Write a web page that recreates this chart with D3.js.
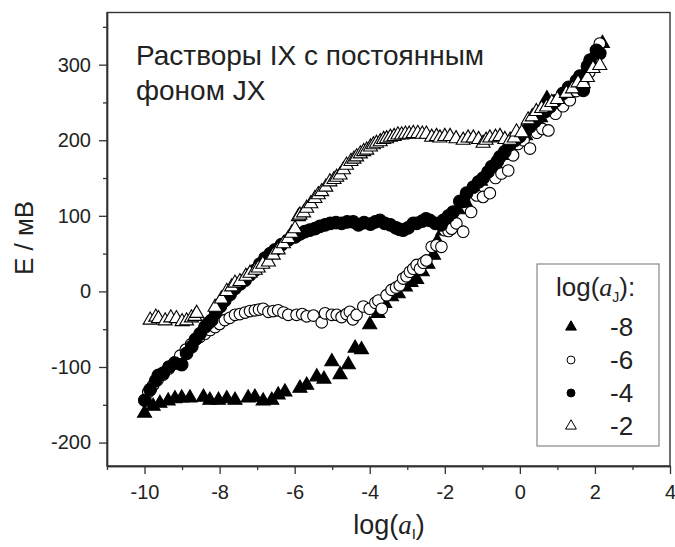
<!DOCTYPE html>
<html>
<head>
<meta charset="utf-8">
<script src="https://cdn.jsdelivr.net/npm/d3@7"></script>
<style>
  body { margin: 0; background: #fff; }
  text { font-family: "Liberation Sans", Arial, sans-serif; fill: #222; }
</style>
</head>
<body>
<div id="chart"></div>
<script>
// log(aJ) = -8 : filled triangles
const seriesM8 = [
  [-10.0,-159],[-9.77,-150],[-9.59,-146],[-9.37,-143],[-9.19,-140],[-9.01,-139],[-8.79,-139],[-8.43,-138],
  [-8.26,-142],[-8.03,-142],[-7.81,-140],[-7.59,-142],[-7.24,-139],[-7.06,-138],[-6.84,-143],[-6.61,-142],
  [-6.44,-135],[-6.26,-131],[-5.86,-126],[-5.68,-122],[-5.41,-111],[-5.22,-114],[-5.01,-91],[-4.79,-108],
  [-4.57,-95],[-4.39,-73],[-4.22,-75],[-4.0,-42],[-3.78,-27],[-3.6,-14],[-3.42,-5],[-3.24,-1],[-3.05,8],
  [-2.9,14],[-2.75,18],[-2.6,28],[-2.45,38],[-2.3,50],[-2.2,68],[-2.05,82],[-1.85,98],[-1.65,110],
  [-1.45,120],[-1.25,135],[-1.05,148],[-0.85,160],[-0.65,170],[-0.45,182],[-0.25,195],[-0.05,200],
  [0.15,208],[0.35,218],[0.55,232],[0.72,257],[0.9,245],[1.1,258],[1.3,266],[1.5,278],[1.7,288],
  [1.85,300],[2.0,305],[2.2,330]
];

// log(aJ) = -6 : open circles
const seriesM6 = [
  [-10.0,-144],[-9.9,-133],[-9.77,-124],[-9.65,-117],[-9.5,-110],[-9.35,-102],[-9.2,-94],[-9.05,-85],
  [-8.9,-77],[-8.76,-70],[-8.66,-64],[-8.52,-60],[-8.39,-56],[-8.25,-51],[-8.12,-47],[-8.0,-43],
  [-7.86,-38],[-7.73,-35],[-7.59,-31],[-7.46,-30],[-7.32,-28],[-7.19,-26],[-7.06,-25],[-6.95,-24],
  [-6.84,-23],[-6.7,-27],[-6.57,-26],[-6.44,-25],[-6.3,-28],[-6.17,-31],[-5.95,-31],[-5.8,-30],
  [-5.68,-33],[-5.5,-32],[-5.28,-41],[-5.19,-29],[-5.01,-31],[-4.88,-31],[-4.75,-34],[-4.62,-30],
  [-4.53,-27],[-4.45,-37],[-4.35,-31],[-4.17,-20],[-4.0,-23],[-3.85,-15],[-3.77,-12],[-3.68,-23],
  [-3.55,-5],[-3.42,2],[-3.3,5],[-3.2,8],[-3.11,17],[-3.02,20],[-2.93,26],[-2.84,30],[-2.75,35],
  [-2.66,30],[-2.57,38],[-2.49,41],[-2.35,59],[-2.22,61],[-2.09,59],[-2.0,81],[-1.9,80],[-1.82,83],
  [-1.69,90],[-1.51,79],[-1.3,105],[-1.15,127],[-0.98,125],[-0.8,130],[-0.65,150],[-0.49,156],
  [-0.31,160],[-0.18,180],[-0.05,195],[0.1,200],[0.27,189],[0.45,210],[0.6,215],[0.76,213],
  [0.95,235],[1.15,245],[1.33,253],[1.5,265],[1.69,273],[1.85,290],[2.0,310],[2.13,328]
];

// log(aJ) = -4 : filled circles
const seriesM4 = [
  [-9.99,-144],[-9.85,-130],[-9.7,-118],[-9.63,-111],[-9.5,-108],[-9.35,-100],[-9.19,-95],[-9.01,-97],
  [-8.88,-82],[-8.74,-73],[-8.63,-63],[-8.52,-56],[-8.39,-47],[-8.3,-42],[-8.21,-38],[-8.1,-28],
  [-7.98,-20],[-7.86,-12],[-7.72,-4],[-7.59,4],[-7.45,10],[-7.32,15],[-7.19,22],[-7.06,28],[-6.93,36],
  [-6.79,44],[-6.65,50],[-6.52,55],[-6.35,62],[-6.17,68],[-5.99,72],[-5.86,76],[-5.73,79],[-5.6,81],
  [-5.46,83],[-5.33,86],[-5.19,88],[-5.05,90],[-4.9,91],[-4.75,90],[-4.6,92],[-4.44,92],[-4.3,88],
  [-4.15,91],[-3.98,89],[-3.85,92],[-3.73,94],[-3.6,90],[-3.45,88],[-3.3,84],[-3.2,82],[-3.11,81],
  [-2.98,84],[-2.84,90],[-2.75,90],[-2.6,93],[-2.5,96],[-2.4,94],[-2.25,90],[-2.1,88],[-2.04,94],
  [-1.9,100],[-1.78,105],[-1.6,119],[-1.5,119],[-1.42,130],[-1.24,138],[-1.1,145],[-0.98,150],
  [-0.85,158],[-0.75,165],[-0.6,172],[-0.53,178],[-0.4,185],[-0.26,194],[-0.12,200],[0.0,205],
  [0.15,212],[0.27,218],[0.4,225],[0.53,231],[0.68,238],[0.8,244],[0.95,252],[1.15,262],[1.3,270],
  [1.51,279],[1.6,285],[1.69,266],[1.8,298],[1.87,306],[2.04,319],[2.13,315]
];

// log(aJ) = -2 : open triangles
const seriesM2 = [
  [-9.85,-36],[-9.7,-32],[-9.63,-34],[-9.45,-37],[-9.3,-33],[-9.15,-34],[-9.0,-38],[-8.88,-37],
  [-8.75,-33],[-8.66,-31],[-8.61,-27],[-8.12,-19],[-7.95,-8],[-7.81,2],[-7.68,8],[-7.59,13],
  [-7.46,15],[-7.3,22],[-7.19,26],[-7.05,30],[-6.97,33],[-6.85,38],[-6.7,41],[-6.57,50],[-6.44,57],
  [-6.3,65],[-6.17,72],[-6.08,79],[-5.99,85],[-5.9,101],[-5.86,103],[-5.76,106],[-5.68,112],
  [-5.57,118],[-5.46,125],[-5.37,130],[-5.28,134],[-5.17,140],[-5.06,147],[-4.95,150],[-4.88,153],
  [-4.79,156],[-4.7,163],[-4.62,169],[-4.5,174],[-4.42,177],[-4.35,180],[-4.25,184],[-4.16,187],
  [-4.08,189],[-3.98,193],[-3.9,196],[-3.82,198],[-3.72,200],[-3.63,203],[-3.55,204],[-3.45,206],
  [-3.35,207],[-3.25,209],[-3.15,209],[-3.05,210],[-2.95,210],[-2.84,211],[-2.72,211],[-2.6,210],
  [-2.49,210],[-2.35,206],[-2.22,207],[-2.13,205],[-2.0,207],[-1.86,207],[-1.7,204],[-1.51,202],
  [-1.38,205],[-1.24,205],[-1.1,203],[-0.98,198],[-0.9,202],[-0.8,205],[-0.65,206],[-0.53,207],
  [-0.4,203],[-0.26,202],[-0.15,205],[-0.09,213],[0.05,212],[0.22,229],[0.33,233],[0.44,240],
  [0.58,244],[0.71,246],[0.85,252],[1.0,256],[1.24,264],[1.4,270],[1.55,278],[1.69,277],[1.8,285],
  [1.95,297],[2.13,301]
];

const xTicks = [-10, -8, -6, -4, -2, 0, 2, 4];
const xMinorTicks = [-11, -9, -7, -5, -3, -1, 1, 3];
const yTicks = [-200, -100, 0, 100, 200, 300];
const yMinorTicks = [-150, -50, 50, 150, 250, 350];
const legendLabels = ["-8", "-6", "-4", "-2"];

const width = 675, height = 547;
const margin = {top: 12.5, right: 5, bottom: 81, left: 107};

const svg = d3.select("#chart").append("svg")
    .attr("width", width)
    .attr("height", height);

let x = d3.scaleLinear().domain([-11, 4]).range([margin.left, width - margin.right]);
let y = d3.scaleLinear().domain([-231, 369]).range([height - margin.bottom, margin.top]);

// plain hyphen for negative numbers, like the original
let fmt = function(d) { return String(d); };

// marker styles, one per series
let styles = [
  {data: seriesM8, type: d3.symbolTriangle, size: 85, fill: "#000"},
  {data: seriesM6, type: d3.symbolCircle, size: 105, fill: "#fff"},
  {data: seriesM4, type: d3.symbolCircle, size: 125, fill: "#000"},
  {data: seriesM2, type: d3.symbolTriangle, size: 85, fill: "#fff"}
];

styles.forEach(function(s) {
  svg.append("g").selectAll("path")
    .data(s.data)
    .enter()
    .append("path")
    .attr("d", d3.symbol().type(s.type).size(s.size))
    .attr("transform", function(d) {
      let dy = s.type === d3.symbolTriangle ? 1.5 : 0;
      return "translate(" + x(d[0]) + "," + (y(d[1]) + dy) + ")";
    })
    .attr("fill", s.fill)
    .attr("stroke", "#000")
    .attr("stroke-width", 1.1);
});

// frame
svg.append("rect")
    .attr("x", x(-11)).attr("y", y(369))
    .attr("width", x(4) - x(-11)).attr("height", y(-231) - y(369))
    .attr("fill", "none").attr("stroke", "#333").attr("stroke-width", 1.4);

// axes
svg.append("g")
    .attr("transform", "translate(0," + y(-231) + ")")
    .call(d3.axisBottom(x).tickValues(xTicks).tickSize(8).tickPadding(11).tickSizeOuter(0)
      .tickFormat(fmt));
svg.append("g")
    .attr("transform", "translate(0," + y(-231) + ")")
    .call(d3.axisBottom(x).tickValues(xMinorTicks).tickSize(4).tickSizeOuter(0).tickFormat(""));

svg.append("g")
    .attr("transform", "translate(" + x(-11) + ",0)")
    .call(d3.axisLeft(y).tickValues(yTicks).tickSize(8).tickPadding(8).tickSizeOuter(0)
      .tickFormat(fmt));
svg.append("g")
    .attr("transform", "translate(" + x(-11) + ",0)")
    .call(d3.axisLeft(y).tickValues(yMinorTicks).tickSize(4).tickSizeOuter(0).tickFormat(""));

svg.selectAll(".domain").attr("stroke", "#333").attr("stroke-width", 1.4);
svg.selectAll(".tick line").attr("stroke", "#333").attr("stroke-width", 1.3);
svg.selectAll(".tick text")
    .style("font-family", "'Liberation Sans', Arial, sans-serif")
    .style("font-size", "20px")
    .attr("fill", "#222");

// axis titles
svg.append("text")
    .attr("transform", "translate(33,238) rotate(-90)")
    .attr("text-anchor", "middle")
    .style("font-size", "26px")
    .text("E / мВ");

let xt = svg.append("text")
    .attr("x", 389).attr("y", 534)
    .attr("text-anchor", "middle")
    .style("font-size", "27px");
xt.append("tspan").text("log(");
xt.append("tspan").style("font-family", "'Liberation Serif', serif")
    .style("font-style", "italic").text("a");
xt.append("tspan").attr("dy", 5).style("font-size", "15px").text("I");
xt.append("tspan").attr("dy", -5).text(")");

// in-plot title
svg.append("text").attr("x", 136).attr("y", 65).style("font-size", "28px")
    .text("Растворы IX с постоянным");
svg.append("text").attr("x", 136).attr("y", 100).style("font-size", "28px")
    .text("фоном JX");

// legend
let legend = svg.append("g");
legend.append("rect")
    .attr("x", 537).attr("y", 264).attr("width", 122).attr("height", 182)
    .attr("fill", "#fff").attr("stroke", "#888").attr("stroke-width", 1.2);

let lt = legend.append("text").attr("x", 556).attr("y", 296).style("font-size", "26px");
lt.append("tspan").text("log(");
lt.append("tspan").style("font-family", "'Liberation Serif', serif")
    .style("font-style", "italic").text("a");
lt.append("tspan").attr("dy", 6).style("font-size", "14px").text("J");
lt.append("tspan").attr("dy", -6).text("):");

styles.forEach(function(s, i) {
  let cy = 327 + i * 33;
  legend.append("path")
    .attr("d", d3.symbol().type(s.type).size(50))
    .attr("transform", "translate(571," + cy + ")")
    .attr("fill", s.fill)
    .attr("stroke", "#000")
    .attr("stroke-width", 1);
  legend.append("text")
    .attr("x", 610).attr("y", cy + 9)
    .style("font-size", "26px")
    .text(legendLabels[i]);
});
</script>
</body>
</html>
